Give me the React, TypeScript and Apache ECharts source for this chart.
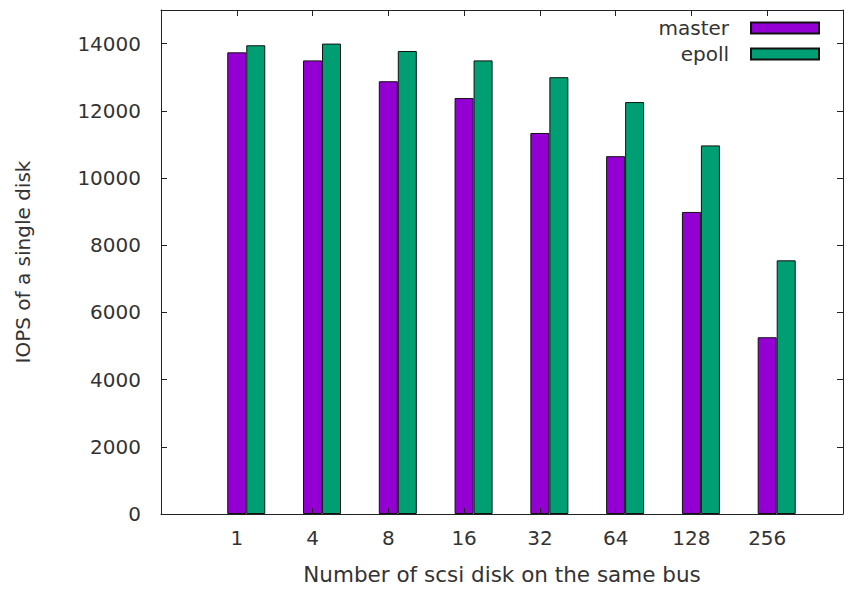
import React, { useEffect, useRef } from "react";
import * as echarts from "echarts";

const categories = ["1", "4", "8", "16", "32", "64", "128", "256"];
const masterValues = [13740, 13500, 12880, 12380, 11340, 10650, 8990, 5260];
const epollValues = [13950, 14000, 13780, 13500, 13000, 12260, 10970, 7550];
const seriesNames = ["master", "epoll"];
const yTicks = [0, 2000, 4000, 6000, 8000, 10000, 12000, 14000];

const FONT = "DejaVu Sans";
const TEXT = "#333";
const LINE = "#222";

export default function App() {
  const ref = useRef<HTMLDivElement>(null);
  useEffect(() => {
    if (!ref.current) return;
    const chart = echarts.init(ref.current, undefined, { renderer: "svg" });
    const catLabel = (v: number) => {
      const i = Math.round(v);
      return i >= 0 && i < categories.length && Math.abs(v - i) < 1e-6 ? categories[i] : "";
    };
    const shift = 0.125;
    chart.setOption({
      animation: false,
      backgroundColor: "#fff",
      textStyle: { fontFamily: FONT, color: TEXT },
      grid: { left: 161, right: -3, top: 10, bottom: 75, containLabel: false },
      legend: {
        orient: "vertical",
        align: "right",
        right: 26,
        top: 18,
        itemWidth: 68,
        itemHeight: 11,
        itemGap: 6,
        padding: 0,
        icon: "rect",
        textStyle: { fontFamily: FONT, fontSize: 20, color: TEXT, padding: [0, 17, 0, 0] },
        data: seriesNames,
      },
      xAxis: [
        {
          type: "value",
          position: "bottom",
          min: -1,
          max: categories.length,
          interval: 1,
          splitLine: { show: false },
          axisLine: { show: true, onZero: false, lineStyle: { color: LINE, width: 1 } },
          axisTick: { show: true, inside: true, length: 6, lineStyle: { color: LINE } },
          axisLabel: {
            formatter: catLabel,
            fontSize: 20,
            color: TEXT,
            fontFamily: FONT,
            margin: 14,
            showMinLabel: true,
            showMaxLabel: true,
          },
          name: "Number of scsi disk on the same bus",
          nameLocation: "middle",
          nameGap: 49,
          nameTextStyle: { fontSize: 21.5, color: TEXT, fontFamily: FONT },
          z: 10,
        },
        {
          type: "value",
          position: "top",
          min: -1,
          max: categories.length,
          interval: 1,
          splitLine: { show: false },
          axisLine: { show: true, onZero: false, lineStyle: { color: LINE, width: 1 } },
          axisTick: { show: true, inside: true, length: 6, lineStyle: { color: LINE } },
          axisLabel: { show: false },
        },
        {
          type: "value",
          show: false,
          min: -1 - shift,
          max: categories.length - shift,
        },
      ],
      yAxis: [
        {
          type: "value",
          position: "left",
          min: 0,
          max: 15000,
          interval: 2000,
          splitLine: { show: false },
          axisLine: { show: true, onZero: false, lineStyle: { color: LINE, width: 1 } },
          axisTick: { show: true, inside: true, length: 6, lineStyle: { color: LINE } },
          axisLabel: {
            fontSize: 20,
            color: TEXT,
            fontFamily: FONT,
            margin: 20,
            showMaxLabel: false,
            formatter: (v: number) => (yTicks.includes(v) ? String(v) : ""),
          },
          name: "IOPS of a single disk",
          nameLocation: "middle",
          nameGap: 128,
          nameRotate: 90,
          nameTextStyle: { fontSize: 20, color: TEXT, fontFamily: FONT },
        },
        {
          type: "value",
          position: "right",
          min: 0,
          max: 15000,
          interval: 2000,
          splitLine: { show: false },
          axisLine: { show: true, onZero: false, lineStyle: { color: LINE, width: 1 } },
          axisTick: { show: true, inside: true, length: 6, lineStyle: { color: LINE } },
          axisLabel: { show: false },
        },
      ],
      series: [
        {
          name: seriesNames[0],
          type: "bar",
          xAxisIndex: 2,
          yAxisIndex: 0,
          barWidth: 19,
          barGap: "0%",
          itemStyle: { color: "#9400d3", borderColor: "#111", borderWidth: 1 },
          data: masterValues.map((v, i) => [i, v]),
        },
        {
          name: seriesNames[1],
          type: "bar",
          xAxisIndex: 2,
          yAxisIndex: 0,
          barWidth: 19,
          barGap: "0%",
          itemStyle: { color: "#009e73", borderColor: "#111", borderWidth: 1 },
          data: epollValues.map((v, i) => [i, v]),
        },
      ],
    });
    return () => chart.dispose();
  }, []);
  return <div ref={ref} style={{ width: 846, height: 590, position: "absolute", left: 0, top: 0 }} />;
}
